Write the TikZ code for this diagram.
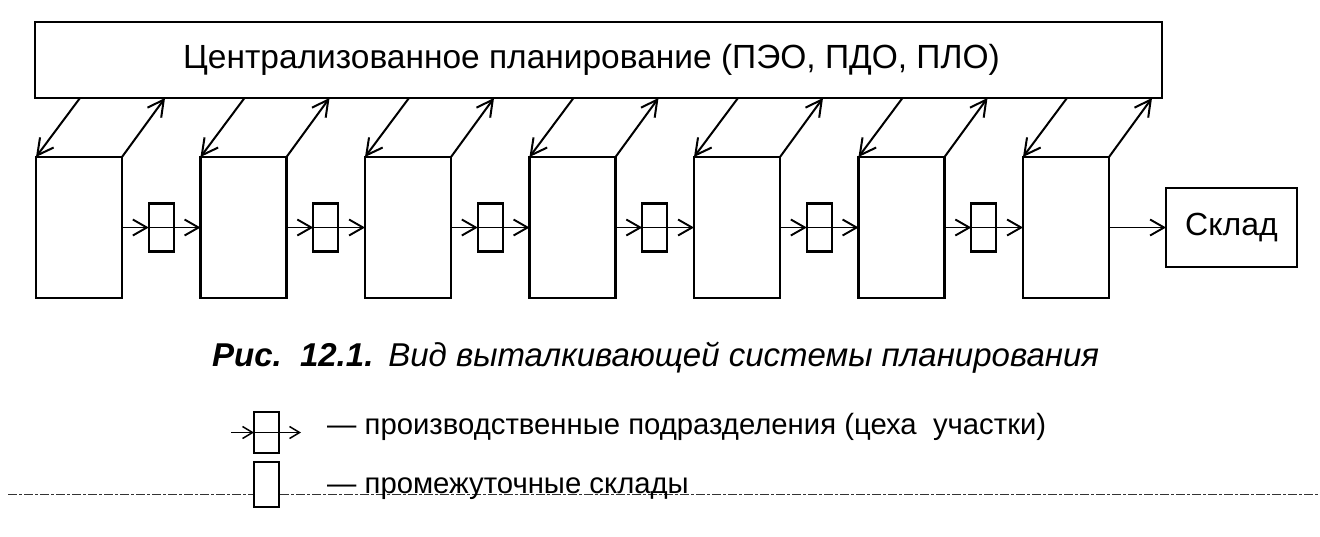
\documentclass[tikz,border=0pt]{standalone}
\usepackage{fontspec}
\setmainfont{Liberation Sans}
\usetikzlibrary{arrows.meta,calc}
\begin{document}
\begin{tikzpicture}[x=1pt,y=-1pt,
  frame/.style={draw, line width=2.8pt, inner sep=0pt, outer sep=0pt},
  unitbox/.style={frame, anchor=north west, minimum width=86pt, minimum height=141pt},
  bufbox/.style={draw, line width=2.3pt, inner sep=0pt, outer sep=0pt, minimum width=25pt, minimum height=48pt},
  legbox/.style={draw, line width=2pt, inner sep=0pt, outer sep=0pt, minimum width=25pt},
  arr/.style={line width=1.9pt, -{Straight Barb[length=14pt,width=16pt]}},
  darr/.style={line width=2pt, -{Straight Barb[length=16pt,width=17pt]}},
  plain/.style={line width=1.9pt},
  scan/.style={line width=0.9pt, black!80, dash pattern=on 9pt off 2pt on 3pt off 2pt},
  bigtext/.style={font=\fontsize{33.5}{37}\selectfont},
  legtext/.style={font=\fontsize{29.3}{32}\selectfont, anchor=base west, inner sep=0pt},
]
\useasboundingbox (0,0) rectangle (1320,536);

% top planning box
\node[frame, anchor=north west, minimum width=1127pt, minimum height=76pt] (top) at (35,22) {};
\node[bigtext] (toptext) at (591.5,60) {Централизованное планирование (ПЭО, ПДО, ПЛО)};

% production units
\foreach \i in {1,...,7} {
  \node[unitbox] (u\i) at ({36+164.5*(\i-1)},157) {};
  \coordinate (dn\i) at ($(u\i.north west)+(44,-59)$);
  \coordinate (up\i) at ($(u\i.north east)+(43,-59)$);
  \draw[darr] (dn\i) -- (u\i.north west);
  \draw[darr] (u\i.north east) -- (up\i);
}

% intermediate buffers
\foreach \i [evaluate=\i as \j using int(\i+1)] in {1,...,6} {
  \node[bufbox] (b\i) at ({161.25+164.5*(\i-1)},227.5) {};
  \draw[arr] (u\i.east) -- (b\i.west);
  \draw[plain] (b\i.west) -- (b\i.east);
  \draw[arr] (b\i.east) -- (u\j.west);
}

% warehouse
\node[frame, anchor=north west, minimum width=131pt, minimum height=79pt,
      font=\fontsize{32}{35}\selectfont] (sklad) at (1166,188) {Склад};
\draw[arr] (u7.east) -- (sklad.west);

% caption
\node[anchor=base west, inner sep=0pt, font=\fontsize{33}{36}\selectfont] (cap) at (212,366)
  {{\bfseries\itshape Рис.\hspace{0.55em}12.1.}\hspace{0.45em}{\itshape Вид выталкивающей системы планирования}};

% scan line
\coordinate (sl) at (8,494);
\coordinate (sr) at (1320,494);
\draw[scan] (sl) -- (sr);

% legend
\node[legbox, minimum height=41pt] (l1) at (266.5,432.5) {};
\coordinate (la) at (231,432.5);
\coordinate (lb) at (301,432.5);
\draw[line width=1.5pt, -{Straight Barb[length=10pt,width=12pt]}] (la) -- (l1.west);
\draw[line width=1.5pt] (l1.west) -- (l1.east);
\draw[line width=1.5pt, -{Straight Barb[length=10pt,width=12pt]}] (l1.east) -- (lb);
\node[legbox, minimum height=45pt, fill=white] (l2) at (266.5,484.5) {};

\node[legtext] (t1) at (327,434) {— производственные подразделения (цеха\ \ участки)};
\node[legtext] (t2) at (327,493) {— промежуточные склады};
\end{tikzpicture}
\end{document}
